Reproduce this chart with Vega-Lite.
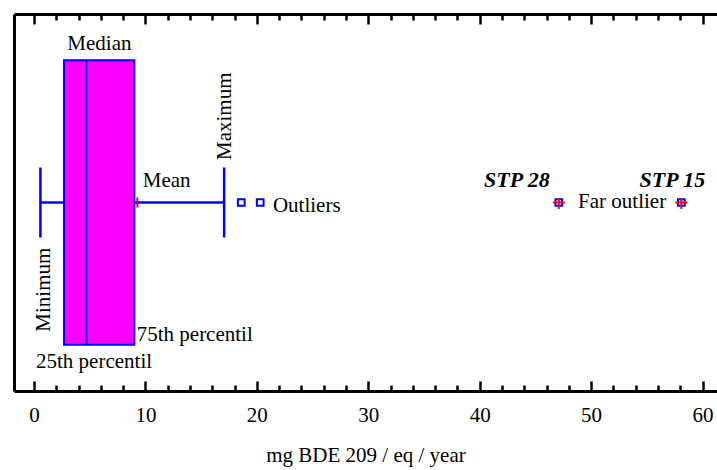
{
  "$schema": "https://vega.github.io/schema/vega-lite/v6.json",
  "width": 703,
  "height": 377,
  "autosize": {"type": "none"},
  "padding": {"left": 14, "top": 14, "right": 0, "bottom": 79},
  "background": "white",
  "config": {
    "view": {"stroke": null},
    "font": "Liberation Serif",
    "axisY": {"title": null, "labels": false, "ticks": false, "grid": false, "domainWidth": 3, "domainColor": "black"}
  },
  "datasets": {
    "summary": [{"group": "all", "min": 0.57, "q1": 2.69, "median": 4.7, "q3": 9.0, "max": 17.06, "mean": 9.27}],
    "outliers": [{"group": "all", "value": 18.6}, {"group": "all", "value": 20.3}],
    "far": [{"group": "all", "value": 47.1, "site": "STP 28"}, {"group": "all", "value": 58.1, "site": "STP 15"}]
  },
  "encoding": {
    "y": {"field": "group", "type": "nominal", "scale": {"domain": ["all"], "paddingInner": 0, "paddingOuter": 0.162}}
  },
  "resolve": {"axis": {"x": "independent"}},
  "layer": [
    {
      "data": {"name": "summary"},
      "mark": {"type": "bar", "fill": "#ff00ff", "stroke": "#0000ff", "strokeWidth": 2},
      "encoding": {
        "x": {"field": "q1", "type": "quantitative", "scale": {"domain": [-1.8, 61.3], "nice": false, "zero": false},
          "axis": {"orient": "bottom", "values": [0,2,4,6,8,10,12,14,16,18,20,22,24,26,28,30,32,34,36,38,40,42,44,46,48,50,52,54,56,58,60],
            "labelExpr": "datum.value % 10 === 0 ? datum.label : ''",
            "tickSize": {"condition": {"test": "datum.value % 10 === 0", "value": -10}, "value": -6},
            "tickWidth": 2.5, "tickColor": "black", "domainColor": "black", "domainWidth": 3, "grid": false,
            "labelFont": "Liberation Serif", "labelFontSize": 21, "labelColor": "black", "labelPadding": 23,
            "labelFlush": false, "labelOverlap": false,
            "title": "mg BDE 209 / eq / year", "titleFont": "Liberation Serif", "titleFontSize": 21,
            "titleFontWeight": "normal", "titleColor": "black", "titlePadding": 15}},
        "x2": {"field": "q3"}
      }
    },
    {
      "data": {"name": "summary"},
      "mark": {"type": "rule", "color": "#0000ff", "strokeWidth": 2.5},
      "encoding": {
        "x": {"field": "min", "type": "quantitative", "scale": {"domain": [-1.8, 61.3], "nice": false, "zero": false},
          "axis": {"orient": "top", "values": [0,2,4,6,8,10,12,14,16,18,20,22,24,26,28,30,32,34,36,38,40,42,44,46,48,50,52,54,56,58,60],
            "labels": false,
            "tickSize": {"condition": {"test": "datum.value % 10 === 0", "value": -10}, "value": -6},
            "tickWidth": 2.5, "tickColor": "black", "domainColor": "black", "domainWidth": 3, "grid": false, "title": null}},
        "x2": {"field": "q1"}
      }
    },
    {
      "data": {"name": "summary"},
      "mark": {"type": "rule", "color": "#0000ff", "strokeWidth": 2.5},
      "encoding": {
        "x": {"field": "q3", "type": "quantitative", "scale": {"domain": [-1.8, 61.3], "nice": false, "zero": false}, "axis": null},
        "x2": {"field": "max"}
      }
    },
    {
      "data": {"name": "summary"},
      "mark": {"type": "tick", "color": "#0000ff", "size": 70, "thickness": 2.5, "opacity": 1},
      "encoding": {
        "x": {"field": "min", "type": "quantitative", "scale": {"domain": [-1.8, 61.3], "nice": false, "zero": false}, "axis": null}
      }
    },
    {
      "data": {"name": "summary"},
      "mark": {"type": "tick", "color": "#0000ff", "size": 70, "thickness": 2.5, "opacity": 1},
      "encoding": {
        "x": {"field": "max", "type": "quantitative", "scale": {"domain": [-1.8, 61.3], "nice": false, "zero": false}, "axis": null}
      }
    },
    {
      "data": {"name": "summary"},
      "mark": {"type": "tick", "color": "#0000ff", "size": 285, "thickness": 2, "opacity": 1},
      "encoding": {
        "x": {"field": "median", "type": "quantitative", "scale": {"domain": [-1.8, 61.3], "nice": false, "zero": false}, "axis": null}
      }
    },
    {
      "data": {"name": "summary"},
      "mark": {"type": "tick", "color": "#ff0000", "size": 10, "thickness": 2, "opacity": 1},
      "encoding": {
        "x": {"field": "mean", "type": "quantitative", "scale": {"domain": [-1.8, 61.3], "nice": false, "zero": false}, "axis": null}
      }
    },
    {
      "data": {"name": "outliers"},
      "mark": {"type": "point", "shape": "square", "filled": false, "stroke": "#0000ff", "strokeWidth": 2, "size": 45, "opacity": 1},
      "encoding": {
        "x": {"field": "value", "type": "quantitative", "scale": {"domain": [-1.8, 61.3], "nice": false, "zero": false}, "axis": null}
      }
    },
    {
      "data": {"name": "far"},
      "mark": {"type": "point", "shape": "square", "filled": false, "stroke": "#0000ff", "strokeWidth": 2, "size": 45, "opacity": 1},
      "encoding": {
        "x": {"field": "value", "type": "quantitative", "scale": {"domain": [-1.8, 61.3], "nice": false, "zero": false}, "axis": null}
      }
    },
    {
      "data": {"name": "far"},
      "mark": {"type": "point", "shape": "M-1,0H1M0,-0.6V1.1", "filled": false, "stroke": "#ff0000", "strokeWidth": 2, "size": 144, "opacity": 1},
      "encoding": {
        "x": {"field": "value", "type": "quantitative", "scale": {"domain": [-1.8, 61.3], "nice": false, "zero": false}, "axis": null}
      }
    },
    {
      "data": {"name": "far"},
      "transform": [{"filter": "datum.site === 'STP 28'"}],
      "mark": {"type": "text", "align": "right", "baseline": "alphabetic", "dx": -9, "dy": -15.8, "fontSize": 22, "fontWeight": "bold", "fontStyle": "italic", "font": "Liberation Serif", "color": "black"},
      "encoding": {
        "x": {"field": "value", "type": "quantitative", "scale": {"domain": [-1.8, 61.3], "nice": false, "zero": false}, "axis": null},
        "text": {"field": "site"}
      }
    },
    {
      "data": {"name": "far"},
      "transform": [{"filter": "datum.site === 'STP 15'"}],
      "mark": {"type": "text", "align": "right", "baseline": "alphabetic", "dx": 24, "dy": -15.8, "fontSize": 22, "fontWeight": "bold", "fontStyle": "italic", "font": "Liberation Serif", "color": "black"},
      "encoding": {
        "x": {"field": "value", "type": "quantitative", "scale": {"domain": [-1.8, 61.3], "nice": false, "zero": false}, "axis": null},
        "text": {"field": "site"}
      }
    },
    {
      "data": {"name": "far"},
      "transform": [{"filter": "datum.site === 'STP 28'"}],
      "mark": {"type": "text", "text": "Far outlier", "align": "left", "baseline": "alphabetic", "dx": 19.3, "dy": 5.8, "fontSize": 21, "font": "Liberation Serif", "color": "black"},
      "encoding": {
        "x": {"field": "value", "type": "quantitative", "scale": {"domain": [-1.8, 61.3], "nice": false, "zero": false}, "axis": null}
      }
    },
    {
      "data": {"name": "outliers"},
      "transform": [{"window": [{"op": "rank", "as": "r"}], "sort": [{"field": "value", "order": "descending"}]}, {"filter": "datum.r === 1"}],
      "mark": {"type": "text", "text": "Outliers", "align": "left", "baseline": "alphabetic", "dx": 12.7, "dy": 9.5, "fontSize": 21, "font": "Liberation Serif", "color": "black"},
      "encoding": {
        "x": {"field": "value", "type": "quantitative", "scale": {"domain": [-1.8, 61.3], "nice": false, "zero": false}, "axis": null}
      }
    },
    {
      "data": {"name": "summary"},
      "mark": {"type": "text", "text": "Median", "align": "center", "baseline": "alphabetic", "dx": 13, "dy": -152.5, "fontSize": 21, "font": "Liberation Serif", "color": "black"},
      "encoding": {
        "x": {"field": "median", "type": "quantitative", "scale": {"domain": [-1.8, 61.3], "nice": false, "zero": false}, "axis": null}
      }
    },
    {
      "data": {"name": "summary"},
      "mark": {"type": "text", "text": "Mean", "align": "left", "baseline": "alphabetic", "dx": 5.4, "dy": -15.8, "fontSize": 21, "font": "Liberation Serif", "color": "black"},
      "encoding": {
        "x": {"field": "mean", "type": "quantitative", "scale": {"domain": [-1.8, 61.3], "nice": false, "zero": false}, "axis": null}
      }
    },
    {
      "data": {"name": "summary"},
      "mark": {"type": "text", "text": "Maximum", "angle": 270, "align": "left", "baseline": "alphabetic", "dx": 42.5, "dy": 6.5, "fontSize": 21, "font": "Liberation Serif", "color": "black"},
      "encoding": {
        "x": {"field": "max", "type": "quantitative", "scale": {"domain": [-1.8, 61.3], "nice": false, "zero": false}, "axis": null}
      }
    },
    {
      "data": {"name": "summary"},
      "mark": {"type": "text", "text": "Minimum", "angle": 270, "align": "left", "baseline": "alphabetic", "dx": -129.2, "dy": 9.7, "fontSize": 21, "font": "Liberation Serif", "color": "black"},
      "encoding": {
        "x": {"field": "min", "type": "quantitative", "scale": {"domain": [-1.8, 61.3], "nice": false, "zero": false}, "axis": null}
      }
    },
    {
      "data": {"name": "summary"},
      "mark": {"type": "text", "text": "75th percentil", "align": "left", "baseline": "alphabetic", "dx": 2.4, "dy": 138.5, "fontSize": 21, "font": "Liberation Serif", "color": "black"},
      "encoding": {
        "x": {"field": "q3", "type": "quantitative", "scale": {"domain": [-1.8, 61.3], "nice": false, "zero": false}, "axis": null}
      }
    },
    {
      "data": {"name": "summary"},
      "mark": {"type": "text", "text": "25th percentil", "align": "left", "baseline": "alphabetic", "dx": -28, "dy": 165.5, "fontSize": 21, "font": "Liberation Serif", "color": "black"},
      "encoding": {
        "x": {"field": "q1", "type": "quantitative", "scale": {"domain": [-1.8, 61.3], "nice": false, "zero": false}, "axis": null}
      }
    }
  ]
}
